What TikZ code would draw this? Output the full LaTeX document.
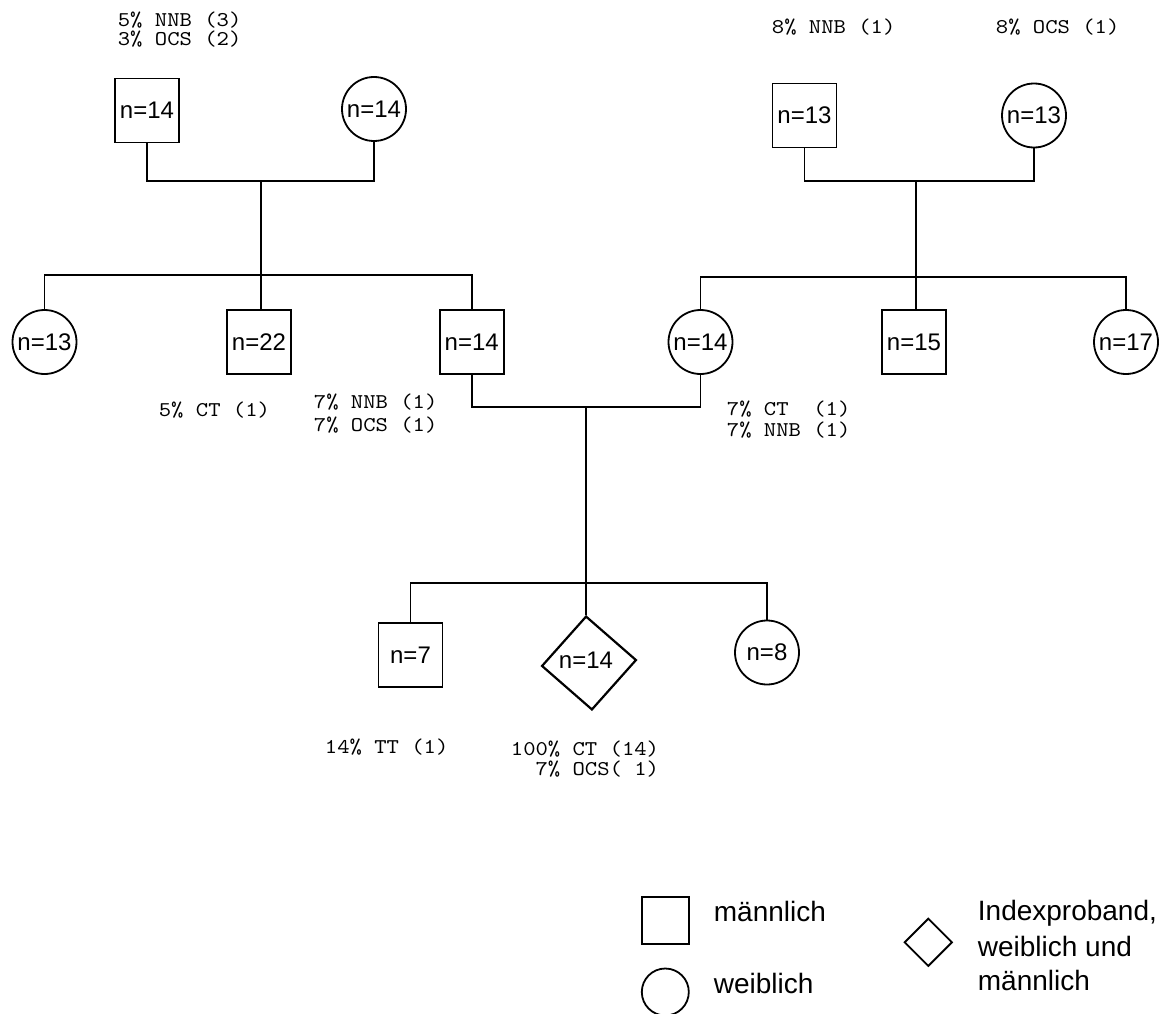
\documentclass[tikz,border=0pt]{standalone}
\usepackage{fontspec}
\setmainfont{Liberation Sans}
\newfontfamily\annfont{lmmono10-regular.otf}[FakeStretch=1.12]
\usetikzlibrary{shapes.geometric}

\begin{document}
\begin{tikzpicture}[x=1pt,y=-1pt,line width=1.8pt,
  male/.style={draw, rectangle, minimum width=64pt, minimum height=64pt, inner sep=0pt,
    font=\fontsize{24}{28}\selectfont},
  female/.style={draw, circle, minimum size=64pt, inner sep=0pt,
    font=\fontsize{24}{28}\selectfont},
  index/.style={draw, diamond, minimum width=95pt, minimum height=94pt, inner sep=0pt,
    line width=2.2pt},
  label/.style={inner sep=0pt, font=\fontsize{24}{28}\selectfont},
  note/.style={anchor=base west, inner sep=0pt, font=\annfont\fontsize{21}{21}\selectfont},
  legtext/.style={anchor=base west, inner sep=0pt, font=\fontsize{28}{34}\selectfont}]

\useasboundingbox (0,0) rectangle (1164,1014);

% grandparents, left family
\node[male]   (gf) at (147,110.5) {n=14};
\node[female] (gm) at (374,109)   {n=14};
% grandparents, right family
\node[male]   (mf) at (804.5,115.5) {n=13};
\node[female] (mm) at (1034,115.5)  {n=13};

\coordinate (m1) at (261,181);
\coordinate (m2) at (916,181);
\coordinate (s1) at (261,275);
\coordinate (s2) at (916,277);

% parents' generation
\node[female] (a13) at (44.5,342)  {n=13};
\node[male]   (a22) at (259,342)   {n=22};
\node[male]   (a14) at (471.7,342) {n=14};
\node[female] (b14) at (700.5,342) {n=14};
\node[male]   (b15) at (914,342)   {n=15};
\node[female] (b17) at (1126,342)  {n=17};

\coordinate (m3) at (586,407);
\coordinate (s3) at (586,583);

% index generation
\node[male]   (c7)  at (410.5,655) {n=7};
\node[index, rotate=3.6] (c14) at (589,663) {};
\node[label]  (c14t) at (586,660) {n=14};
\node[female] (c8)  at (767,652.5) {n=8};

% partnerships and descent lines
\draw (gf.south) |- (m1) -| (gm.south);
\draw (m1) -- (s1);
\draw (a13.north) |- (s1) -| (a14.north);
\draw (s1) -- (s1 |- a22.north);

\draw (mf.south) |- (m2) -| (mm.south);
\draw (m2) -- (s2);
\draw (b14.north) |- (s2) -| (b17.north);
\draw (s2) -- (s2 |- b15.north);

\draw (a14.south) |- (m3) -| (b14.south);
\draw (m3) -- (s3);
\draw (c7.north) |- (s3) -| (c8.north);
\draw (s3) -- (c14.north);

% findings per group
\node[note] (t1)  at (117,26.5)  {5\%~NNB~(3)};
\node[note] (t2)  at (117,45.5)  {3\%~OCS~(2)};
\node[note] (t3)  at (771,33.5)  {8\%~NNB~(1)};
\node[note] (t4)  at (995,33.5)  {8\%~OCS~(1)};
\node[note] (t5)  at (158,416)   {5\%~CT~(1)};
\node[note] (t6)  at (313,408.5) {7\%~NNB~(1)};
\node[note] (t7)  at (313,431)   {7\%~OCS~(1)};
\node[note] (t8)  at (726,415)   {7\%~CT~~(1)};
\node[note] (t9)  at (726,436.5) {7\%~NNB~(1)};
\node[note] (t10) at (324,753.5) {14\%~TT~(1)};
\node[note] (t11) at (510,755)   {100\%~CT~(14)};
\node[note] (t12) at (510,775)   {~~7\%~OCS(~1)};

% legend
\node[male, minimum width=47pt, minimum height=47pt]   (l1) at (665.3,920.3) {};
\node[female, minimum size=47pt] (l2) at (665.3,992) {};
\node[index, minimum width=48pt, minimum height=48pt, line width=1.8pt] (l3) at (928.3,942.3) {};
\node[legtext] (lt1) at (713,921.2) {männlich};
\node[legtext] (lt2) at (713,993.3) {weiblich};
\node[legtext] (lt3) at (977,920)   {Indexproband,};
\node[legtext] (lt4) at (977,956.5) {weiblich und};
\node[legtext] (lt5) at (977,990)   {männlich};
\end{tikzpicture}
\end{document}
